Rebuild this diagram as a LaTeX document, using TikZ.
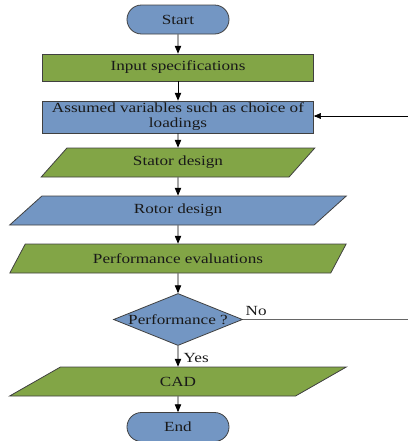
\documentclass[tikz,border=0pt]{standalone}
\usepackage{fontspec}
\setmainfont{Liberation Serif}[FakeStretch=1.23]
\usetikzlibrary{shapes.geometric, shapes.misc, arrows}
\definecolor{boxblue}{RGB}{115,150,195}
\definecolor{boxgreen}{RGB}{130,165,70}
\tikzset{
    >=triangle 45, % makes the arrow heads filled
    every node/.style={font=\fontsize{14}{15}\selectfont, text=black!90},
    flowbox/.style={draw=black!75, line width=0.8pt, inner sep=1pt}, % border of every box
    terminal/.style={flowbox, rounded rectangle, fill=boxblue, minimum width=104bp, minimum height=29bp},
    process/.style={flowbox, rectangle, minimum width=271bp, minimum height=27bp},
    io/.style={flowbox, trapezium, trapezium left angle=54, trapezium right angle=126, trapezium stretches=true, minimum height=29bp},
    decision/.style={flowbox, diamond, fill=boxblue, minimum width=129bp, minimum height=52bp, inner sep=0pt},
    flow/.style={->, line width=0.8pt}, % vertical connectors
}

\begin{document}
\begin{tikzpicture}
                            \useasboundingbox (0,0) rectangle (408bp,-441bp);
                            \node[terminal] (start) at (178bp,-19.5bp) {Start};
                            \node[process, fill=boxgreen, below of=start, node distance=48bp] (input) {Input specifications};
                            \node[process, fill=boxblue, minimum height=32bp, align=center, below of=input, node distance=49.5bp] (assumed) {Assumed variables such as choice of\\loadings};
                            \node[io, fill=boxgreen, minimum width=274bp, below of=assumed, node distance=45.5bp] (stator) {Stator design};
                            \node[io, fill=boxblue, minimum width=337bp, below of=stator, node distance=48bp] (rotor) {Rotor design};
                            \node[io, fill=boxgreen, minimum width=337bp, below of=rotor, node distance=48bp] (perfeval) {Performance evaluations};
                            \node[decision, label=center:{Performance ?}, below of=perfeval, node distance=61bp] (check) {};
                            \node[io, fill=boxgreen, minimum width=337bp, below of=check, node distance=62bp] (cad) {CAD};
                            \node[terminal, below of=cad, node distance=45.5bp] (end) {End};
                            \coordinate (noout) at (408bp,-319.5bp);
                            \coordinate (loopin) at (408bp,-116bp);
                            \draw
                            (start) edge[flow] (input)
                            (input) edge[flow] (assumed)
                            (assumed) edge[flow] (stator)
                            (stator) edge[flow] (rotor)
                            (rotor) edge[flow] (perfeval)
                            (perfeval) edge[flow] (check)
                            (check) edge[flow] node[right, pos=0.6, xshift=2bp] {Yes} (cad)
                            (cad) edge[flow] (end);
                            \draw[line width=0.6pt, draw=black!60] (check.east) -- node[above, pos=0.08] {No} (noout);
                            \draw[flow, line width=0.6pt] (loopin) -- (assumed.east |- loopin);
                        \end{tikzpicture}
\end{document}
